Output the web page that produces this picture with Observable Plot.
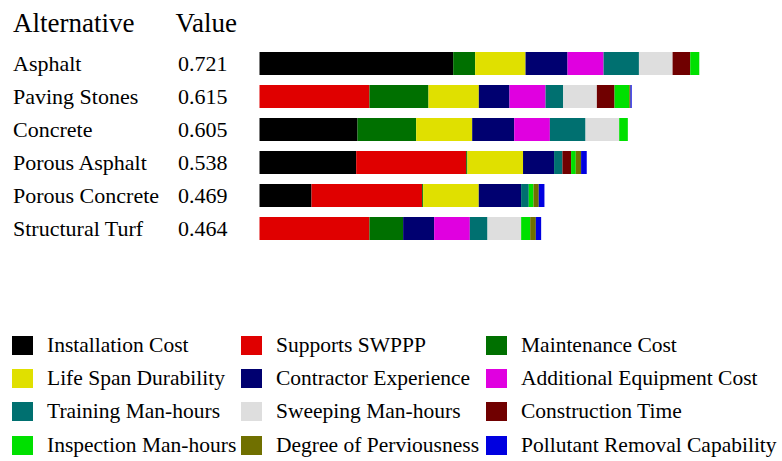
<!DOCTYPE html>
<html>
<head>
<meta charset="utf-8">
<script src="https://cdn.jsdelivr.net/npm/d3@7"></script>
<script src="https://cdn.jsdelivr.net/npm/@observablehq/plot@0.6"></script>
<style>
  html, body { margin: 0; padding: 0; background: #fff; }
  #chart svg { display: block; }
  .lg-swatches.lg-swatches-wrap {
    display: grid;
    grid-template-columns: 229px 245px auto;
    grid-auto-rows: 33.33px;
    align-items: center;
    padding-left: 12px;
    padding-top: 38.5px;
    margin: 0;
    min-height: 0;
    font-family: "Liberation Serif", "Times New Roman", serif;
    font-size: 21.5px;
    color: #000;
  }
  .lg-swatches.lg-swatches-wrap .lg-swatch {
    display: flex;
    align-items: center;
    margin: 0;
    white-space: nowrap;
  }
  .lg-swatches .lg-swatch > svg { margin-right: 14px; }
</style>
</head>
<body>
<div id="chart"></div>
<script>
const alternatives = ["Asphalt", "Paving Stones", "Concrete", "Porous Asphalt", "Porous Concrete", "Structural Turf"];
const totals = [0.721, 0.615, 0.605, 0.538, 0.469, 0.464];
const criteria = [
  "Installation Cost", "Supports SWPPP", "Maintenance Cost",
  "Life Span Durability", "Contractor Experience", "Additional Equipment Cost",
  "Training Man-hours", "Sweeping Man-hours", "Construction Time",
  "Inspection Man-hours", "Degree of Perviousness", "Pollutant Removal Capability"
];
const colors = [
  "#000000", "#e00000", "#007000",
  "#e0e000", "#000070", "#e000e0",
  "#007070", "#dedede", "#700000",
  "#00e000", "#707000", "#0000e0"
];
// weighted scores per criterion (criteria order), one array per alternative
const asphalt        = [0.3177, 0,      0.0361, 0.0826, 0.0689, 0.0591, 0.0580, 0.0552, 0.0290, 0.0148, 0,      0];
const pavingStones   = [0,      0.1804, 0.0968, 0.0826, 0.0503, 0.0591, 0.0290, 0.0552, 0.0290, 0.0241, 0.0020, 0.0020];
const concrete       = [0.1608, 0,      0.0962, 0.0919, 0.0689, 0.0585, 0.0585, 0.0552, 0,      0.0142, 0,      0];
const porousAsphalt  = [0.1586, 0.1804, 0.0020, 0.0913, 0.0509, 0,      0.0137, 0,      0.0142, 0.0077, 0.0087, 0.0093];
const porousConcrete = [0.0853, 0.1815, 0.0016, 0.0913, 0.0694, 0,      0.0126, 0,      0,      0.0077, 0.0087, 0.0093];
const structuralTurf = [0,      0.1804, 0.0552, 0,      0.0509, 0.0585, 0.0290, 0.0552, 0,      0.0148, 0.0093, 0.0087];
const series = [asphalt, pavingStones, concrete, porousAsphalt, porousConcrete, structuralTurf];

const rows = [];
alternatives.forEach((alt, i) => {
  criteria.forEach((c, j) => {
    rows.push({alternative: alt, criterion: c, value: series[i][j]});
  });
});
const labels = alternatives.map((a, i) => ({alternative: a, total: totals[i]}));

const font = "'Liberation Serif', 'Times New Roman', serif";

const chart = Plot.plot({
  width: 782,
  height: 290,
  marginLeft: 259.5,
  marginRight: 34.8,
  marginTop: 41,
  marginBottom: 39,
  style: {fontFamily: font, color: "#000", background: "#fff"},
  x: {domain: [0, 0.8], axis: null},
  y: {domain: alternatives, axis: null, padding: 0.3},
  color: {domain: criteria, range: colors},
  marks: [
    Plot.barX(rows, {x: "value", y: "alternative", fill: "criterion"}),
    Plot.text(labels, {y: "alternative", text: "alternative", frameAnchor: "left", dx: -247, textAnchor: "start", fontSize: 22, fill: "#000"}),
    Plot.text(labels, {y: "alternative", text: d => d.total.toFixed(3), frameAnchor: "left", dx: -82, textAnchor: "start", fontSize: 22, fill: "#000"}),
    Plot.text(["Alternative"], {text: d => d, frameAnchor: "top-left", dx: -247, dy: -9.5, lineAnchor: "bottom", textAnchor: "start", fontSize: 27, fill: "#000"}),
    Plot.text(["Value"], {text: d => d, frameAnchor: "top-left", dx: -84.5, dy: -9.5, lineAnchor: "bottom", textAnchor: "start", fontSize: 27, fill: "#000"})
  ]
});

const legend = Plot.legend({
  color: {domain: criteria, range: colors},
  swatchWidth: 21,
  swatchHeight: 19,
  className: "lg"
});

const root = document.getElementById("chart");
root.appendChild(chart);
root.appendChild(legend);
</script>
</body>
</html>
